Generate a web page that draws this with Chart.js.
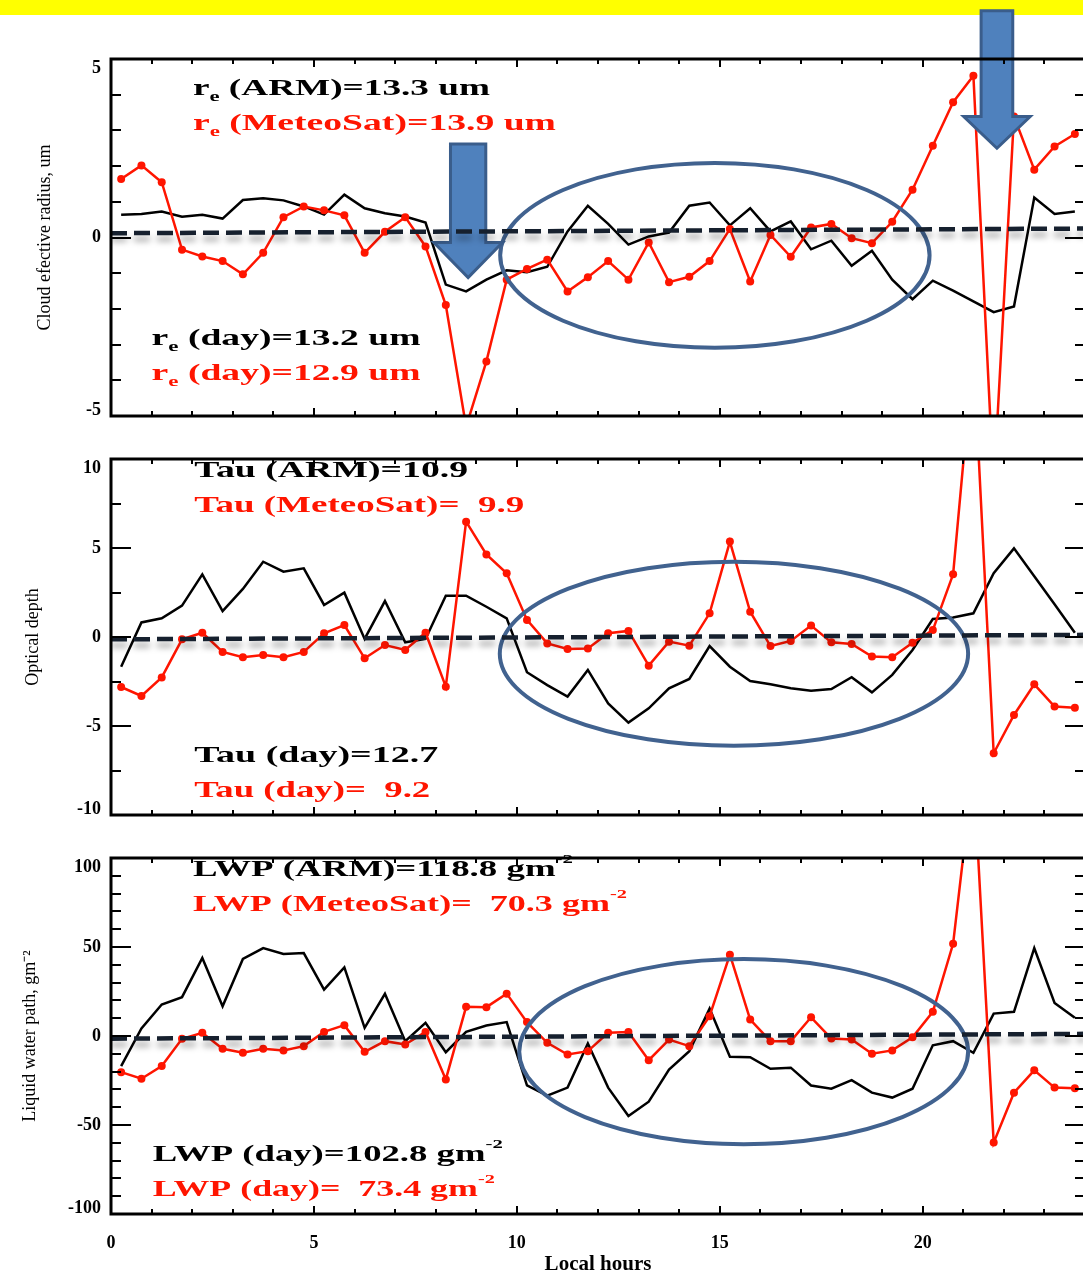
<!DOCTYPE html>
<html lang="en">
<head>
  <meta charset="UTF-8"/>
  <title>ARM vs MeteoSat cloud retrievals</title>
  <script src="https://cdn.jsdelivr.net/npm/chart.js"></script>
  <style>
    * { box-sizing: border-box; margin: 0; padding: 0; }
    html, body { width: 1083px; height: 1273px; overflow: hidden; background: #fff; }
    #banner { position: absolute; left: 0; top: 0; width: 1083px; height: 15px; background: #ffff00; }
    canvas { position: absolute; left: 0; }
  </style>
</head>
<body>
  <div id="banner"></div>
  <canvas id="reChart" width="1090" height="440" style="top:0"></canvas>
  <canvas id="tauChart" width="1090" height="400" style="top:440px"></canvas>
  <canvas id="lwpChart" width="1090" height="433" style="top:840px"></canvas>

  <script>
    // half-hourly local time
    const hours = [0.25, 0.75, 1.25, 1.75, 2.25, 2.75, 3.25, 3.75, 4.25, 4.75, 5.25, 5.75,
                   6.25, 6.75, 7.25, 7.75, 8.25, 8.75, 9.25, 9.75, 10.25, 10.75, 11.25, 11.75,
                   12.25, 12.75, 13.25, 13.75, 14.25, 14.75, 15.25, 15.75, 16.25, 16.75, 17.25, 17.75,
                   18.25, 18.75, 19.25, 19.75, 20.25, 20.75, 21.25, 21.75, 22.25, 22.75, 23.25, 23.75];
    const hourTicks = [0, 5, 10, 15, 20];

    // effective radius anomaly, um
    const reArm = [0.64, 0.66, 0.73, 0.58, 0.64, 0.53, 1.05, 1.1, 1.04, 0.87,
                   0.64, 1.2, 0.82, 0.68, 0.59, 0.42, -1.32, -1.51, -1.18, -0.92,
                   -0.97, -0.82, 0.17, 0.89, 0.38, -0.2, 0.03, 0.14, 0.89, 0.98,
                   0.34, 0.82, 0.17, 0.45, -0.33, -0.09, -0.79, -0.37, -1.18, -1.73,
                   -1.21, -1.49, -1.79, -2.09, -1.93, 1.12, 0.66, 0.73];
    const reSat = [1.64, 2.02, 1.55, -0.34, -0.53, -0.66, -1.03, -0.43, 0.57, 0.87,
                   0.76, 0.62, -0.43, 0.16, 0.57, -0.25, -1.89, -5.3, -3.47, -1.18,
                   -0.88, -0.62, -1.51, -1.11, -0.66, -1.18, -0.14, -1.25, -1.1, -0.66,
                   0.24, -1.23, 0.07, -0.54, 0.28, 0.38, -0.02, -0.16, 0.44, 1.34,
                   2.57, 3.79, 4.53, -7, 3.39, 1.9, 2.55, 2.9];
    const reFit = [0.12, 0.25];
    const reTicks = [-5, 0, 5];

    // optical depth anomaly
    const tauArm = [-1.67, 0.82, 1.05, 1.76, 3.52, 1.46, 2.7, 4.23, 3.67, 3.86,
                    1.8, 2.49, -0.11, 2.02, -0.3, -0.11, 2.32, 2.32, 1.7, 1.05,
                    -1.98, -2.7, -3.35, -1.85, -3.73, -4.81, -4.01, -2.88, -2.36, -0.51,
                    -1.67, -2.47, -2.66, -2.88, -3.02, -2.92, -2.26, -3.11, -2.13, -0.73,
                    1.01, 1.1, 1.33, 3.58, 4.98, 3.41, 1.84, 0.24];
    const tauSat = [-2.81, -3.31, -2.27, -0.13, 0.24, -0.84, -1.14, -1.01, -1.14, -0.84,
                    0.21, 0.67, -1.2, -0.45, -0.73, 0.24, -2.79, 6.48, 4.64, 3.58,
                    0.96, -0.36, -0.67, -0.64, 0.21, 0.34, -1.61, -0.26, -0.49, 1.33,
                    5.36, 1.42, -0.51, -0.22, 0.64, -0.3, -0.39, -1.1, -1.14, -0.32,
                    0.39, 3.52, 16, -6.53, -4.38, -2.66, -3.91, -3.97];
    const tauFit = [-0.13, 0.12];
    const tauTicks = [-10, -5, 0, 5, 10];

    // liquid water path anomaly, g m-2
    const lwpArm = [-16.9, 4.2, 17.7, 21.8, 43.8, 16.7, 43.3, 49.4, 46.1, 46.6,
                    26.1, 38.6, 4.6, 23.7, -2.9, 7.4, -9.1, 2.3, 5.9, 7.8,
                    -27.8, -33.5, -29, -4.2, -29, -44.9, -36.9, -18.8, -8.5, 15.4,
                    -11.7, -11.9, -18.4, -17.8, -27.8, -29.6, -24.8, -31.8, -34.6, -29.6,
                    -5.2, -2.9, -9.4, 12.6, 13.6, 49.4, 18.6, 10.2];
    const lwpSat = [-20.3, -24, -16.9, -1.6, 1.8, -7.2, -9.4, -7.2, -8.1, -5.7,
                    2.3, 6.1, -8.9, -2.9, -4.8, 2.3, -24.4, 16.4, 16.2, 23.8,
                    7.8, -3.8, -10.4, -8.5, 1.8, 2.3, -13.6, -2, -5.7, 11.1,
                    45.7, 9.2, -2.9, -2.9, 10.5, -1.4, -2, -10, -8.1, -0.7,
                    13.6, 51.8, 150, -59.9, -31.9, -19.3, -29, -29.4];
    const lwpFit = [-1.5, 1.2];
    const lwpTicks = [-100, -50, 0, 50, 100];

    const SERIF = '"Liberation Serif", "Times New Roman", serif';
    const RED = '#ff1500';
    const BLUE_LINE = '#41628f';

    function pts(vals) { return vals.map((v, i) => ({ x: hours[i], y: v })); }

    // text with sub/superscripts, stretched horizontally to a given width
    function drawRich(ctx, x0, y0, parts, color, width) {
      const size = { n: 23, sub: 14, sup: 13 };
      const shift = { n: 0, sub: 6, sup: -13 };
      ctx.save();
      let w = 0;
      parts.forEach(([t, k]) => {
        ctx.font = 'bold ' + size[k || 'n'] + 'px ' + SERIF;
        w += ctx.measureText(t).width;
      });
      ctx.translate(x0, y0);
      ctx.scale(width / w, 1);
      ctx.fillStyle = color;
      ctx.textBaseline = 'alphabetic';
      let cx = 0;
      parts.forEach(([t, k]) => {
        ctx.font = 'bold ' + size[k || 'n'] + 'px ' + SERIF;
        ctx.fillText(t, cx, shift[k || 'n']);
        cx += ctx.measureText(t).width;
      });
      ctx.restore();
    }

    // IDL-ish frame, ellipses, arrows and notes
    function panelPlugin(cfg) {
      return {
        id: 'panel',
        beforeDatasetDraw(chart, args) {
          if (args.index !== 0) return;
          const ctx = chart.ctx;
          ctx.save();
          ctx.shadowColor = 'rgba(0,0,0,0.35)';
          ctx.shadowBlur = 6;
          ctx.shadowOffsetY = 6;
        },
        afterDatasetDraw(chart, args) {
          const { ctx, scales: { x, y } } = chart;
          if (args.index === 0) { ctx.restore(); return; }
          if (args.index !== 1) return;

          (cfg.notes || []).forEach(n => {
            drawRich(ctx, x.getPixelForValue(n.x), y.getPixelForValue(n.y), n.parts, n.color, n.w);
          });

          ctx.save();
          ctx.strokeStyle = BLUE_LINE;
          ctx.lineWidth = 4;
          (cfg.ellipses || []).forEach(e => {
            const cx = x.getPixelForValue(e.x), cy = y.getPixelForValue(e.y);
            const rx = x.getPixelForValue(e.x + e.rx) - cx;
            const ry = y.getPixelForValue(e.y - e.ry) - cy;
            ctx.beginPath();
            ctx.ellipse(cx, cy, rx, ry, 0, 0, Math.PI * 2);
            ctx.stroke();
          });

          ctx.fillStyle = '#4f81bd';
          ctx.strokeStyle = '#3a5d8b';
          ctx.lineWidth = 3;
          ctx.lineJoin = 'miter';
          (cfg.arrows || []).forEach(a => {
            const sl = x.getPixelForValue(a.x - a.shaft), sr = x.getPixelForValue(a.x + a.shaft);
            const hl = x.getPixelForValue(a.x - a.head), hr = x.getPixelForValue(a.x + a.head);
            const cx = x.getPixelForValue(a.x);
            const top = y.getPixelForValue(a.top), hy = y.getPixelForValue(a.neck), tip = y.getPixelForValue(a.tip);
            ctx.beginPath();
            ctx.moveTo(sl, top); ctx.lineTo(sl, hy); ctx.lineTo(hl, hy); ctx.lineTo(cx, tip);
            ctx.lineTo(hr, hy); ctx.lineTo(sr, hy); ctx.lineTo(sr, top); ctx.closePath();
            ctx.fill();
            ctx.stroke();
          });
          ctx.restore();
        },
        afterDraw(chart) {
          const { ctx, chartArea: a, scales: { x, y } } = chart;
          ctx.save();
          ctx.strokeStyle = '#000';
          ctx.lineWidth = 3;
          ctx.strokeRect(a.left, a.top, a.right - a.left, a.bottom - a.top);

          ctx.lineWidth = 2;
          ctx.beginPath();
          for (let v = y.min; v <= y.max + 1e-9; v += cfg.yMinor) {
            const py = Math.round(y.getPixelForValue(v));
            const major = Math.abs(v / cfg.yMajor - Math.round(v / cfg.yMajor)) < 1e-6;
            const len = major ? 20 : 10;
            ctx.moveTo(a.left, py); ctx.lineTo(a.left + len, py);
            ctx.moveTo(a.right, py); ctx.lineTo(a.right - len, py);
          }
          for (let v = x.min; v <= x.max; v += 1) {
            const px = Math.round(x.getPixelForValue(v));
            const len = v % 5 === 0 ? 8 : 5;
            ctx.moveTo(px, a.top); ctx.lineTo(px, a.top + len);
            ctx.moveTo(px, a.bottom); ctx.lineTo(px, a.bottom - len);
          }
          ctx.stroke();

          // y tick labels kept inside the frame at the ends
          ctx.fillStyle = '#000';
          ctx.font = 'bold 18px ' + SERIF;
          ctx.textAlign = 'right';
          ctx.textBaseline = 'middle';
          cfg.yLabels.forEach(v => {
            let py = y.getPixelForValue(v);
            py = Math.min(Math.max(py, a.top + 9), a.bottom - 6);
            ctx.fillText(String(v), a.left - 10, py);
          });
          ctx.restore();
        }
      };
    }

    function makePanel(id, o) {
      const ctx = document.getElementById(id).getContext('2d');
      return new Chart(ctx, {
        type: 'line',
        data: {
          datasets: [
            {
              data: [{ x: 0, y: o.fit[0] }, { x: 24, y: o.fit[1] }],
              borderColor: '#16202e', borderWidth: 4.5, borderDash: [16, 7],
              pointRadius: 0
            },
            {
              data: pts(o.sat),
              borderColor: RED, borderWidth: 2.5,
              pointRadius: 4, pointBackgroundColor: RED, pointBorderWidth: 0
            },
            {
              data: pts(o.arm),
              borderColor: '#000', borderWidth: 2.5, pointRadius: 0
            }
          ]
        },
        options: {
          responsive: false,
          animation: false,
          devicePixelRatio: 1,
          layout: { padding: { top: o.padTop, right: 5, left: 0, bottom: 0 } },
          scales: {
            x: {
              type: 'linear', min: 0, max: 24,
              grid: { display: false }, border: { display: false },
              afterBuildTicks: s => { s.ticks = hourTicks.map(v => ({ value: v })); },
              afterFit: s => { s.height = o.xHeight; },
              ticks: {
                display: !!o.xTitle, autoSkip: false, padding: 11, color: '#000',
                font: { family: SERIF, size: 18, weight: 'bold' }
              },
              title: {
                display: !!o.xTitle, text: o.xTitle || '', color: '#000',
                font: { family: SERIF, size: 21, weight: 'bold', lineHeight: 0.8 },
                padding: 0
              }
            },
            y: {
              type: 'linear', min: o.yLabels[0], max: o.yLabels[o.yLabels.length - 1],
              grid: { display: false }, border: { display: false },
              ticks: { display: false },
              afterFit: s => { s.width = 111; },
              title: {
                display: true, text: o.yTitle, color: '#000',
                font: { family: SERIF, size: 18 },
                padding: { top: o.titlePad, bottom: 0 }
              }
            }
          },
          plugins: { legend: { display: false }, tooltip: { enabled: false } }
        },
        plugins: [panelPlugin(o)]
      });
    }

    const sub = s => [s, 'sub'];
    const sup = s => [s, 'sup'];

    makePanel('reChart', {
      arm: reArm, sat: reSat, fit: reFit, yLabels: reTicks, yMajor: 5, yMinor: 1,
      padTop: 59, xHeight: 24, titlePad: 34, yTitle: 'Cloud efective radius, um',
      notes: [
        { x: 2.02, y: 4, color: '#000', w: 297, parts: [['r'], sub('e'), [' (ARM)=13.3 um']] },
        { x: 2.02, y: 3, color: RED, w: 363, parts: [['r'], sub('e'), [' (MeteoSat)=13.9 um']] },
        { x: 1.0, y: -3, color: '#000', w: 269, parts: [['r'], sub('e'), [' (day)=13.2 um']] },
        { x: 1.0, y: -4, color: RED, w: 269, parts: [['r'], sub('e'), [' (day)=12.9 um']] }
      ],
      ellipses: [{ x: 14.88, y: -0.5, rx: 5.29, ry: 2.59 }],
      arrows: [
        { x: 8.8, shaft: 0.435, head: 0.845, top: 2.62, neck: -0.14, tip: -1.12 },
        { x: 21.83, shaft: 0.39, head: 0.82, top: 6.35, neck: 3.39, tip: 2.5 }
      ]
    });

    makePanel('tauChart', {
      arm: tauArm, sat: tauSat, fit: tauFit, yLabels: tauTicks, yMajor: 5, yMinor: 2.5,
      padTop: 19, xHeight: 25, titlePad: 22, yTitle: 'Optical depth',
      notes: [
        { x: 2.05, y: 9, color: '#000', w: 274, parts: [['Tau (ARM)=10.9']] },
        { x: 2.05, y: 7, color: RED, w: 330, parts: [['Tau (MeteoSat)=  9.9']] },
        { x: 2.05, y: -7, color: '#000', w: 244, parts: [['Tau (day)=12.7']] },
        { x: 2.05, y: -9, color: RED, w: 236, parts: [['Tau (day)=  9.2']] }
      ],
      ellipses: [{ x: 15.35, y: -0.94, rx: 5.77, ry: 5.17 }]
    });

    makePanel('lwpChart', {
      arm: lwpArm, sat: lwpSat, fit: lwpFit, yLabels: lwpTicks, yMajor: 50, yMinor: 10,
      padTop: 18, xHeight: 59, titlePad: 19, yTitle: 'Liquid water path, gm\u207B\u00B2',
      xTitle: 'Local hours',
      notes: [
        { x: 2.02, y: 90, color: '#000', w: 380, parts: [['LWP (ARM)=118.8 gm'], sup('-2')] },
        { x: 2.02, y: 70, color: RED, w: 434, parts: [['LWP (MeteoSat)=  70.3 gm'], sup('-2')] },
        { x: 1.03, y: -70, color: '#000', w: 350, parts: [['LWP (day)=102.8 gm'], sup('-2')] },
        { x: 1.03, y: -90, color: RED, w: 342, parts: [['LWP (day)=  73.4 gm'], sup('-2')] }
      ],
      ellipses: [{ x: 15.59, y: -8.8, rx: 5.53, ry: 52 }]
    });
  </script>
</body>
</html>
